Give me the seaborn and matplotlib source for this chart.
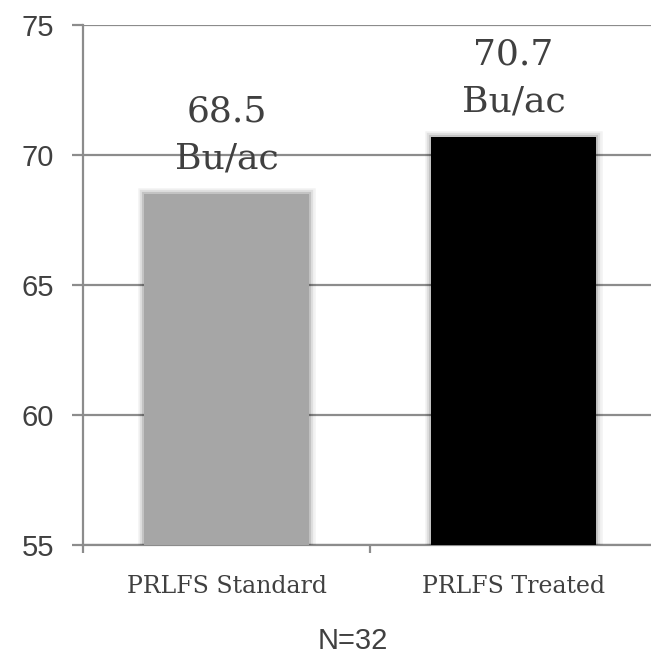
import pandas as pd
import numpy as np
import matplotlib
matplotlib.use('Agg')
import matplotlib.pyplot as plt
import matplotlib.patheffects as pe
import seaborn as sns

categories = ['PRLFS Standard', 'PRLFS Treated']
yields = [68.5, 70.7]
bar_colors = ['#a6a6a6', '#000000']
labels = ['68.5\nBu/ac', '70.7\nBu/ac']

df = pd.DataFrame({'group': categories, 'yield': yields})

sns.set_style('white')
plt.rcParams['font.family'] = ['Liberation Sans', 'DejaVu Sans']

fig = plt.figure(figsize=(6.51, 6.56), dpi=100)
ax = fig.add_axes([0.1275, 0.169, 0.8725, 0.793])

sns.barplot(data=df, x='group', y='yield', hue='group', palette=bar_colors,
            width=0.575, saturation=1, edgecolor='none', legend=False,
            ax=ax, zorder=3)

# soft glow around bars
glow = [pe.Stroke(linewidth=9, foreground='#000000', alpha=0.05),
        pe.Stroke(linewidth=6, foreground='#000000', alpha=0.08),
        pe.Stroke(linewidth=3, foreground='#000000', alpha=0.12),
        pe.Normal()]
for p in ax.patches:
    p.set_path_effects(glow)

ax.set_ylim(55, 75)
ax.set_xlim(-0.5, 1.479)
ax.set_yticks([55, 60, 65, 70, 75])
ax.yaxis.grid(True, color='#8c8c8c', linewidth=1.6, zorder=0)
ax.set_axisbelow(True)

for s in ['top', 'right']:
    ax.spines[s].set_visible(False)
for s in ['left', 'bottom']:
    ax.spines[s].set_color('#8c8c8c')
    ax.spines[s].set_linewidth(1.6)

ax.tick_params(axis='y', left=True, length=8, width=1.6, color='#8c8c8c',
               labelsize=21, labelcolor='#404040', pad=13)
ax.set_xticks([0, 1])
ax.set_xticklabels(categories, family=['DejaVu Serif'], fontsize=17, color='#404040')
ax.tick_params(axis='x', bottom=False, pad=18)
ax.set_xticks([-0.5, 0.5], minor=True)
ax.tick_params(axis='x', which='minor', bottom=True, length=6, width=1.6, color='#8c8c8c')

for i, (v, lab) in enumerate(zip(yields, labels)):
    ax.text(i, v + 0.7, lab, ha='center', va='bottom', fontsize=26,
            family=['DejaVu Serif'], color='#404040', linespacing=1.5)

ax.set_xlabel('')
ax.set_ylabel('')
fig.text(353 / 651, 1 - 641 / 656, 'N=32', ha='center', va='center',
         fontsize=21, color='#404040')

fig.savefig('out.png', dpi=100)
